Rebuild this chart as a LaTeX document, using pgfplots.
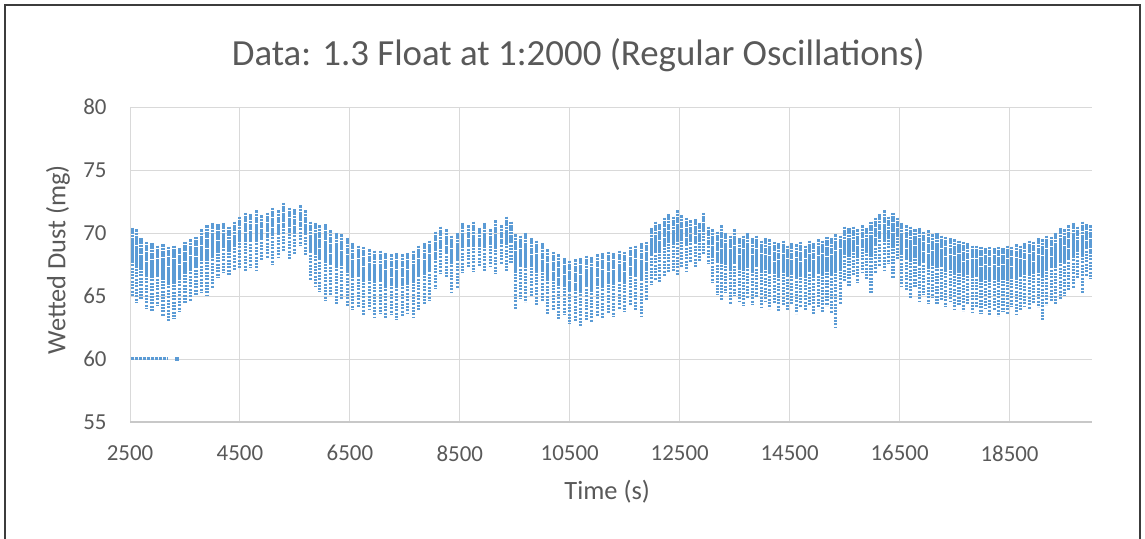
\documentclass[border=0pt]{standalone}
\usepackage{pgfplots}
\pgfplotsset{compat=1.18}
\usepackage{pgfplotstable}
\usepackage{fontspec}
\setmainfont{Carlito}

\definecolor{dust}{RGB}{91,155,213}
\definecolor{txtgray}{RGB}{89,89,89}
\definecolor{gridgray}{RGB}{217,217,217}
\definecolor{axisgray}{RGB}{200,200,200}
\definecolor{framegray}{RGB}{60,60,60}

% one row per oscillation cycle: time, lowest reading, end of the dense band, highest reading
\pgfplotstableread{
t lo mid hi
2540 65.0 67.7 70.4
2620 64.5 67.4 70.3
2700 64.8 67.2 69.6
2800 64.0 66.7 69.3
2900 63.8 66.5 69.2
3000 64.2 66.6 69.0
3100 63.4 66.3 69.1
3200 63.0 66.0 68.9
3300 63.2 66.1 69.0
3400 63.8 66.3 68.8
3500 64.4 66.9 69.3
3600 64.6 67.1 69.5
3700 65.0 67.4 69.7
3800 65.2 67.8 70.3
3900 65.0 67.8 70.6
4000 65.6 68.2 70.8
4100 66.5 68.6 70.7
4200 66.8 68.8 70.8
4300 66.6 68.6 70.5
4400 67.0 69.0 70.9
4500 67.2 69.3 71.3
4600 66.9 69.3 71.6
4700 67.3 69.4 71.5
4800 67.0 69.4 71.8
4900 67.8 69.6 71.4
5000 68.0 69.8 71.6
5100 67.5 69.8 72.0
5200 68.0 69.9 71.8
5300 68.5 70.5 72.4
5400 67.9 70.0 72.0
5500 68.3 70.1 71.9
5600 69.0 70.6 72.2
5700 68.2 70.0 71.8
5780 66.2 68.6 70.9
5870 65.8 68.3 70.8
5950 65.3 68.0 70.6
6050 64.6 67.7 70.7
6150 65.0 67.6 70.2
6250 64.4 67.2 70.0
6350 64.8 67.4 69.9
6450 64.2 66.9 69.6
6550 63.9 66.6 69.2
6650 64.1 66.6 69.0
6750 63.5 66.2 68.9
6850 63.9 66.3 68.7
6950 63.3 66.0 68.6
7050 63.6 66.1 68.6
7150 63.2 65.8 68.4
7250 63.5 65.9 68.3
7350 63.1 65.8 68.4
7450 63.4 65.9 68.3
7550 63.6 66.0 68.4
7650 63.3 66.0 68.6
7750 63.9 66.5 69.0
7850 64.3 66.8 69.2
7950 64.6 67.0 69.4
8050 65.6 67.9 70.1
8150 66.8 68.7 70.5
8250 66.4 68.4 70.3
8350 65.2 67.5 69.8
8450 65.6 67.8 70.0
8550 66.8 68.8 70.8
8650 67.2 68.9 70.6
8750 66.9 68.9 70.9
8850 67.4 68.9 70.4
8950 67.0 68.9 70.8
9050 67.4 68.9 70.3
9150 66.8 68.9 71.0
9250 67.5 69.1 70.6
9350 67.0 69.2 71.3
9430 67.6 69.3 70.9
9510 63.9 66.9 69.9
9600 64.8 67.3 69.8
9700 64.5 67.3 70.0
9800 64.9 67.3 69.6
9900 64.2 66.8 69.4
10000 64.6 66.9 69.2
10100 63.6 66.2 68.7
10200 63.8 66.2 68.5
10300 63.2 65.8 68.3
10400 63.5 65.8 68.0
10500 62.8 65.3 67.8
10600 63.0 65.5 67.9
10700 62.6 65.3 68.0
10800 63.1 65.7 68.2
10900 62.9 65.5 68.1
11000 63.4 65.9 68.3
11100 63.2 65.8 68.4
11200 63.6 66.1 68.5
11300 63.4 65.9 68.4
11400 63.9 66.3 68.6
11500 63.7 66.1 68.5
11600 64.2 66.6 68.9
11700 63.9 66.5 69.0
11800 63.3 66.3 69.2
11900 64.6 67.0 69.3
11980 65.9 68.2 70.4
12060 66.3 68.6 70.9
12140 66.1 68.4 70.7
12220 66.5 68.9 71.2
12300 66.9 69.2 71.5
12380 67.0 69.2 71.3
12460 66.7 69.3 71.8
12540 67.3 69.4 71.4
12620 67.0 69.1 71.2
12700 67.6 69.3 71.0
12780 67.2 69.2 71.1
12860 67.8 69.3 70.8
12940 68.2 69.9 71.6
13020 67.6 69.1 70.5
13100 66.0 68.2 70.3
13180 65.1 67.6 70.1
13260 64.6 67.6 70.6
13340 65.2 67.6 70.0
13420 64.4 67.1 69.8
13500 65.0 67.7 70.3
13580 64.6 67.1 69.6
13660 64.2 67.0 69.8
13740 64.8 67.4 70.0
13820 64.3 67.0 69.6
13900 64.9 67.4 69.8
13980 64.1 66.8 69.4
14060 64.5 67.1 69.6
14140 64.0 66.8 69.5
14220 64.4 66.9 69.3
14300 63.8 66.5 69.2
14380 64.2 66.8 69.4
14460 63.9 66.5 69.0
14540 64.4 66.8 69.2
14620 63.6 66.4 69.1
14700 64.1 66.7 69.3
14780 63.8 66.4 69.0
14860 64.3 66.9 69.4
14940 63.5 66.4 69.2
15020 64.0 66.8 69.5
15100 63.7 66.6 69.4
15180 64.2 67.0 69.7
15260 63.6 66.6 69.6
15340 62.5 66.8 69.9
15420 64.4 67.1 69.8
15500 66.2 68.4 70.5
15580 65.8 68.1 70.4
15660 66.6 68.6 70.5
15740 66.0 68.2 70.3
15820 66.8 68.7 70.6
15900 66.3 68.4 70.4
15980 65.2 68.1 70.9
16060 66.8 69.0 71.2
16140 67.4 69.5 71.5
16220 67.0 69.4 71.8
16300 67.6 69.5 71.3
16380 66.4 69.0 71.6
16460 67.8 69.5 71.2
16540 65.8 68.3 70.8
16620 65.4 68.0 70.6
16700 64.8 67.7 70.5
16780 65.6 68.0 70.3
16860 64.6 67.5 70.4
16940 65.1 67.6 70.1
17020 64.4 67.3 70.2
17100 64.9 67.4 69.9
17180 64.3 67.2 70.0
17260 64.7 67.3 69.8
17340 64.1 66.9 69.7
17420 64.5 67.1 69.6
17500 63.9 66.7 69.5
17580 64.2 66.8 69.4
17660 63.8 66.6 69.3
17740 64.3 66.8 69.2
17820 63.7 66.4 69.0
17900 64.1 66.6 69.0
17980 63.6 66.3 68.9
18060 64.0 66.4 68.8
18140 63.5 66.2 68.9
18220 63.9 66.4 68.8
18300 63.4 66.2 68.9
18380 63.8 66.3 68.8
18460 63.6 66.3 69.0
18540 64.1 66.5 68.9
18620 63.5 66.3 69.1
18700 63.9 66.5 69.0
18780 64.2 66.7 69.2
18860 64.0 66.7 69.4
18940 64.4 66.9 69.3
19020 64.1 66.9 69.6
19100 63.0 66.6 69.5
19180 64.3 67.1 69.8
19260 64.6 67.2 69.7
19340 64.4 67.2 70.0
19420 64.8 67.6 70.4
19500 65.0 67.7 70.3
19580 65.4 68.0 70.6
19660 65.6 68.2 70.8
19740 66.4 68.5 70.5
19820 65.2 68.1 70.9
19900 66.6 68.7 70.7
19970 66.4 68.5 70.6
}\streaks

\begin{document}
\begin{tikzpicture}
\useasboundingbox (0,0) rectangle (1145bp,539bp);
\draw[framegray, line width=1.6bp] (5bp,0) -- (5bp,534bp) -- (1140bp,534bp) -- (1140bp,0);
\begin{axis}[
  at={(130bp,117bp)}, anchor=south west,
  scale only axis, width=962bp, height=315bp,
  xmin=2500, xmax=20000, ymin=55, ymax=80,
  xtick={2500,4500,...,18500}, ytick={55,60,...,80},
  scaled ticks=false,
  /pgf/number format/.cd, 1000 sep={}, assume math mode=true, /pgfplots/.cd,
  axis x line*=bottom, axis y line*=left,
  x axis line style={draw=axisgray, line width=1.2bp, -},
  y axis line style={draw=none},
  major tick length=0pt,
  grid=major, major grid style={draw=gridgray, line width=0.9bp},
  tick label style={font=\fontsize{23}{26}\selectfont, text=txtgray},
  xticklabel shift=20bp, yticklabel shift=20bp,
  title={Data: 1.3 Float at 1:2000 (Regular Oscillations)},
  title style={font=\fontsize{37}{40}\selectfont, text=txtgray, at={(0.466,1.165)}, anchor=center, yshift=-6pt},
  xlabel={Time (s)},
  xlabel style={font=\fontsize{26.5}{30}\selectfont, text=txtgray, at={(0.496,-0.222)}, anchor=center},
  ylabel={Wetted Dust (mg)},
  ylabel style={font=\fontsize{26.5}{30}\selectfont, text=txtgray, at={(-0.0748,0.515)}, anchor=center},
  clip=false,
]
% full swing of each cycle, sparse samples
\addplot[draw=none, no markers, forget plot,
  error bars/.cd, y dir=minus, y explicit, error mark=none,
  error bar style={draw=dust, solid, line width=3.1bp, dash pattern=on 2bp off 1.3bp}]
  table[x=t, y=hi, y error expr=\thisrow{hi}-\thisrow{lo}] {\streaks};
% upper part of each cycle, dense samples
\addplot[draw=none, no markers, forget plot,
  error bars/.cd, y dir=minus, y explicit, error mark=none,
  error bar style={draw=dust, solid, line width=3.1bp, dash pattern=on 2.6bp off 0.8bp}]
  table[x=t, y=hi, y error expr=\thisrow{hi}-\thisrow{mid}] {\streaks};
% start-up readings at the floor value
\addplot[dust, line width=3bp, dash pattern=on 3bp off 1bp] coordinates {(2510,60) (3170,60)};
\addplot[only marks, mark=square*, mark size=1.4bp, dust] coordinates {(3350,60)};
\end{axis}
\end{tikzpicture}
\end{document}
